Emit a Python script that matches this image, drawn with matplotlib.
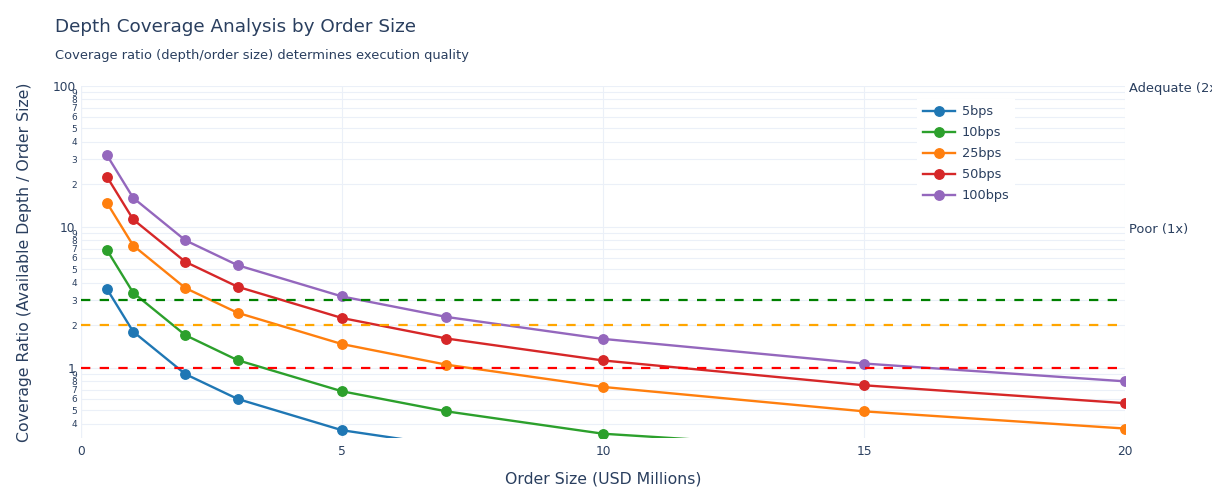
import matplotlib
matplotlib.use('Agg')
import matplotlib.pyplot as plt

# данные
order_sizes = [0.5, 1, 2, 3, 5, 7, 10, 15, 20]
cov_5bps = [3.6, 1.8, 0.9, 0.6, 0.36, 0.28, 0.2, 0.13, 0.1]
cov_10bps = [6.8, 3.4, 1.7, 1.13, 0.68, 0.49, 0.34, 0.26, 0.2]
cov_25bps = [14.7, 7.35, 3.67, 2.45, 1.47, 1.05, 0.73, 0.49, 0.37]
cov_50bps = [22.5, 11.25, 5.63, 3.75, 2.25, 1.61, 1.125, 0.75, 0.56]
cov_100bps = [32.0, 16.0, 8.0, 5.33, 3.2, 2.29, 1.6, 1.07, 0.8]

series_names = ['5bps', '10bps', '25bps', '50bps', '100bps']
series_colors = ['#1f77b4', '#2ca02c', '#ff7f0e', '#d62728', '#9467bd']

threshold_values = [3, 2, 1]
threshold_colors = ['#008000', '#FFA500', '#FF0000']
annot_texts = ['Adequate (2x)', 'Poor (1x)']
annot_y = [100, 10]

x_ticks = [0, 5, 10, 15, 20]
y_major = [1, 10, 100]
y_minor = [0.4, 0.5, 0.6, 0.7, 0.8, 0.9,
           2, 3, 4, 5, 6, 7, 8, 9,
           20, 30, 40, 50, 60, 70, 80, 90]
y_minor_labels = ['4', '5', '6', '7', '8', '9',
                  '2', '3', '4', '5', '6', '7', '8', '9',
                  '2', '3', '4', '5', '6', '7', '8', '9']

TXT = '#2a3f5f'
GRID = '#ebf0f8'
plt.rcParams['font.family'] = ['DejaVu Sans']

fig = plt.figure(figsize=(12.12, 4.98), dpi=100)
ax = fig.add_axes([81 / 1212, 1 - 438.4 / 498, 1044 / 1212, 352.7 / 498])
ax.set_yscale('log')
ax.set_xlim(0, 20)
ax.set_ylim(0.315, 100)

for s in ax.spines.values():
    s.set_visible(False)

ax.set_xticks(x_ticks)
ax.set_yticks(y_major)
ax.set_yticklabels([str(v) for v in y_major])
ax.set_yticks(y_minor, minor=True)
ax.set_yticklabels(y_minor_labels, minor=True)
ax.tick_params(axis='x', length=0, pad=5, labelsize=8.8, labelcolor=TXT)
ax.tick_params(axis='y', which='major', length=0, pad=4, labelsize=8.8, labelcolor=TXT)
ax.tick_params(axis='y', which='minor', length=0, pad=3, labelsize=6.5, labelcolor=TXT)
ax.grid(True, which='both', axis='y', color=GRID, lw=0.8)
ax.grid(True, which='major', axis='x', color=GRID, lw=0.8)
ax.axvline(0, color=GRID, lw=1.6, zorder=0.5)
ax.set_axisbelow(True)

all_series = [cov_5bps, cov_10bps, cov_25bps, cov_50bps, cov_100bps]
handles = []
for k, (vals, name, col) in enumerate(zip(all_series, series_names, series_colors)):
    ln, = ax.plot(order_sizes, vals, '-o', color=col, lw=1.7, ms=6.8, zorder=2 + k * 0.1)
    handles.append(ln)

# пороговые линии
for val, col in zip(threshold_values, threshold_colors):
    ax.axhline(val, color=col, lw=1.6, ls=(0, (4.2, 4.2)), zorder=3)

for txt, yv in zip(annot_texts, annot_y):
    ax.annotate(txt, xy=(1, yv), xycoords=('axes fraction', 'data'),
                xytext=(3, -2), textcoords='offset points', ha='left', va='center',
                fontsize=9.4, color=TXT, annotation_clip=False)

leg = ax.legend(handles, series_names, loc='upper left',
                bbox_to_anchor=(917 / 1212, 1 - 99.5 / 498), bbox_transform=fig.transFigure,
                frameon=True, facecolor='white', edgecolor='none', framealpha=1,
                fontsize=9.3, labelspacing=0.62, handlelength=2.5, handletextpad=0.52,
                borderpad=0.44, borderaxespad=0, fancybox=False)
for t in leg.get_texts():
    t.set_color(TXT)
leg.set_zorder(5)

fig.text(55 / 1212, 1 - 27 / 498, 'Depth Coverage Analysis by Order Size',
         fontsize=13.2, color=TXT, va='center', ha='left')
fig.text(55 / 1212, 1 - 56 / 498, 'Coverage ratio (depth/order size) determines execution quality',
         fontsize=9.4, color=TXT, va='center', ha='left')
fig.text(603 / 1212, 1 - 479 / 498, 'Order Size (USD Millions)',
         fontsize=11.3, color=TXT, va='center', ha='center')
fig.text(25 / 1212, 1 - 262 / 498, 'Coverage Ratio (Available Depth / Order Size)',
         fontsize=11.3, color=TXT, va='center', ha='center', rotation=90)

fig.savefig('out.png', dpi=100, facecolor='white')
plt.close(fig)
